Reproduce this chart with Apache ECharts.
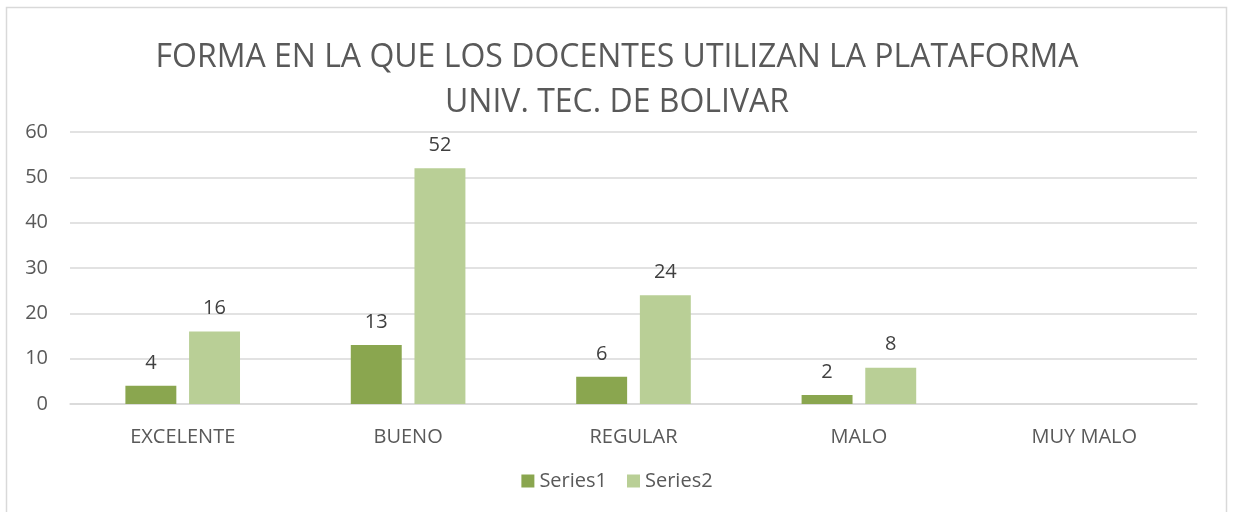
<!DOCTYPE html>
<html>
<head>
<meta charset="utf-8">
<script src="https://cdn.jsdelivr.net/npm/echarts@6/dist/echarts.min.js"></script>
<style>
  html, body { margin: 0; padding: 0; background: #fff; }
  #main { width: 1234px; height: 512px; }
</style>
</head>
<body>
<div id="main"></div>
<script>
const categories = ['EXCELENTE', 'BUENO', 'REGULAR', 'MALO', 'MUY MALO'];
const series1 = [4, 13, 6, 2, null];
const series2 = [16, 52, 24, 8, null];

window.onload = function () {
  const chart = echarts.init(document.getElementById('main'));
  const font = '"Open Sans", "Liberation Sans", sans-serif';
  const labelStyle = {
    show: true,
    position: 'top',
    distance: 13,
    color: '#404040',
    fontSize: 20,
    fontFamily: font
  };
  const option = {
    animation: false,
    textStyle: { fontFamily: font },
    graphic: [{
      type: 'rect',
      shape: { x: 6.5, y: 7.5, width: 1220, height: 520 },
      style: { fill: 'none', stroke: '#d9d9d9', lineWidth: 1.5 },
      silent: true
    }],
    title: {
      text: 'FORMA EN LA QUE LOS DOCENTES UTILIZAN LA PLATAFORMA\nUNIV. TEC. DE BOLIVAR',
      left: 'center',
      top: 30,
      textStyle: {
        color: '#595959',
        fontSize: 32,
        fontWeight: 'normal',
        fontFamily: font,
        lineHeight: 45
      }
    },
    legend: {
      bottom: 16,
      left: 'center',
      itemWidth: 13,
      itemHeight: 13,
      itemGap: 20,
      icon: 'rect',
      textStyle: { color: '#595959', fontSize: 20, fontFamily: font },
      data: ['Series1', 'Series2']
    },
    grid: { left: 70, right: 37, top: 132, bottom: 108 },
    xAxis: {
      type: 'category',
      data: categories,
      axisLine: { lineStyle: { color: '#d9d9d9', width: 1.5 } },
      axisTick: { show: false },
      axisLabel: { color: '#595959', fontSize: 20, margin: 23, fontFamily: font }
    },
    yAxis: {
      type: 'value',
      min: 0,
      max: 60,
      interval: 10,
      axisLine: { show: false },
      axisTick: { show: false },
      splitLine: { lineStyle: { color: '#d9d9d9', width: 1.5 } },
      axisLabel: { color: '#595959', fontSize: 20, margin: 22, fontFamily: font }
    },
    series: [
      {
        name: 'Series1',
        type: 'bar',
        data: series1,
        barWidth: '22.6%',
        barGap: '25%',
        itemStyle: { color: '#8aa64f' },
        label: labelStyle
      },
      {
        name: 'Series2',
        type: 'bar',
        data: series2,
        barWidth: '22.6%',
        barGap: '25%',
        itemStyle: { color: '#b9cf96' },
        label: labelStyle
      }
    ]
  };
  chart.setOption(option);
};
</script>
</body>
</html>
